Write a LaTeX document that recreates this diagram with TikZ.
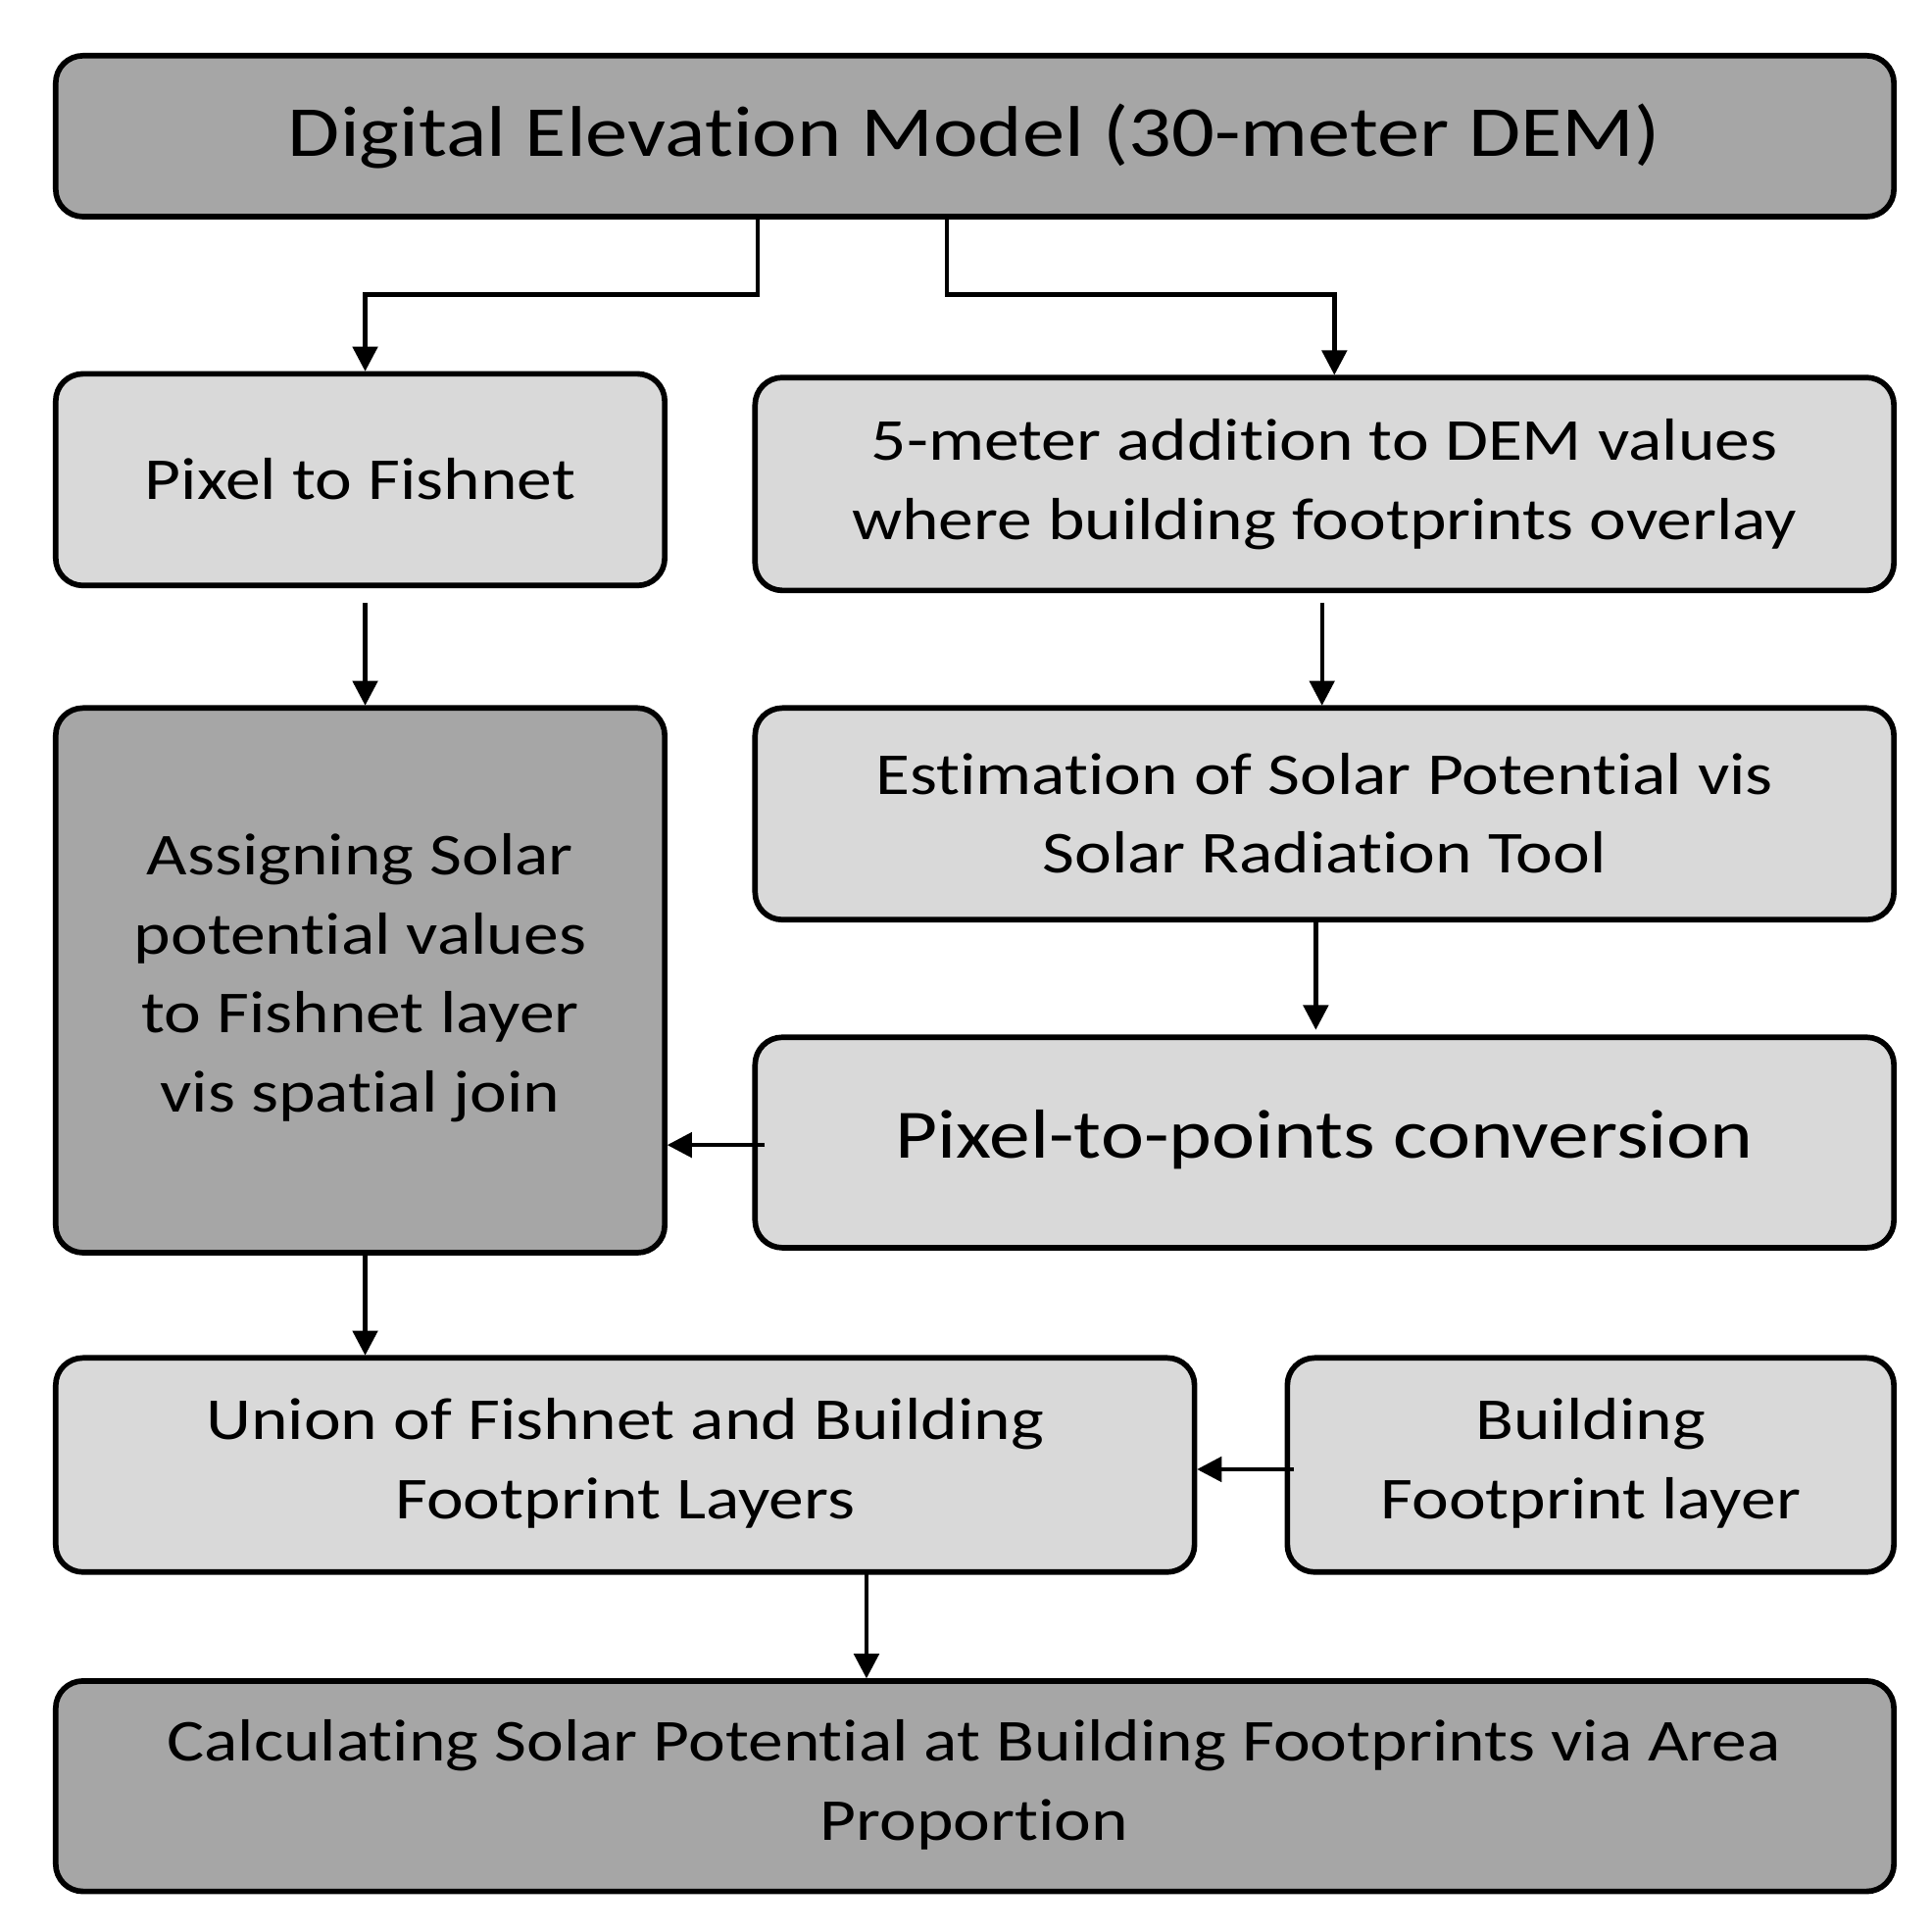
\documentclass[tikz,border=0pt]{standalone}
\usepackage{fontspec}
\usetikzlibrary{arrows.meta}
\setmainfont{Carlito}[FakeStretch=1.18,RawFeature=-liga]
\begin{document}
\begin{tikzpicture}[x=1pt,y=-1pt,
  box/.style={draw=black,line width=4.5pt,rounded corners=22pt},
  dark/.style={box,fill=gray!70!white},
  light/.style={box,fill=gray!30!white},
  arr/.style={line width=3.5pt,-{Triangle[length=20pt,width=20pt]}},
  lbl/.style={align=center,font=\fontsize{48}{64}\selectfont}]
\useasboundingbox (0,0) rectangle (1560,1560);
\draw[dark] (45,45) rectangle (1530,175);
\node[lbl,font=\fontsize{58}{70}\selectfont] (dem) at (787,110) {Digital Elevation Model (30-meter DEM)};
\draw[light] (45,302) rectangle (537,473);
\node[lbl] (pf) at (291,387) {Pixel to Fishnet};
\draw[light] (610,305) rectangle (1530,477);
\node[lbl] (fm) at (1070,391) {5-meter addition to DEM values\\where building footprints overlay};
\draw[light] (610,572) rectangle (1530,743);
\node[lbl] (est) at (1070,657) {Estimation of Solar Potential vis\\Solar Radiation Tool};
\draw[dark] (45,572) rectangle (537,1012);
\node[lbl] (as) at (291,790) {Assigning Solar\\potential values\\to Fishnet layer\\vis spatial join};
\draw[light] (610,838) rectangle (1530,1008);
\node[lbl,font=\fontsize{56}{64}\selectfont] (pp) at (1070,921) {Pixel-to-points conversion};
\draw[light] (45,1097) rectangle (965,1270);
\node[lbl] (un) at (505,1182) {Union of Fishnet and Building\\Footprint Layers};
\draw[light] (1040,1097) rectangle (1530,1270);
\node[lbl] (bf) at (1285,1182) {Building\\Footprint layer};
\draw[dark] (45,1358) rectangle (1530,1528);
\node[lbl] (calc) at (787,1442) {Calculating Solar Potential at Building Footprints via Area\\Proportion};
\coordinate (a1) at (612,177); \coordinate (a1e) at (295,300);
\coordinate (a2) at (765,177); \coordinate (a2e) at (1078,303);
\draw[arr] (a1) |- (450,238) -| (a1e);
\draw[arr] (a2) |- (900,238) -| (a2e);
\coordinate (b1) at (295,487); \coordinate (b1e) at (295,570);
\draw[arr] (b1) -- (b1e);
\coordinate (b2) at (1068,487); \coordinate (b2e) at (1068,570);
\draw[arr] (b2) -- (b2e);
\coordinate (c1) at (1063,745); \coordinate (c1e) at (1063,832);
\draw[arr] (c1) -- (c1e);
\coordinate (d1) at (618,925); \coordinate (d1e) at (539,925);
\draw[arr] (d1) -- (d1e);
\coordinate (e1) at (295,1014); \coordinate (e1e) at (295,1095);
\draw[arr] (e1) -- (e1e);
\coordinate (f1) at (1045,1187); \coordinate (f1e) at (967,1187);
\draw[arr] (f1) -- (f1e);
\coordinate (g1) at (700,1272); \coordinate (g1e) at (700,1356);
\draw[arr] (g1) -- (g1e);
\end{tikzpicture}
\end{document}
